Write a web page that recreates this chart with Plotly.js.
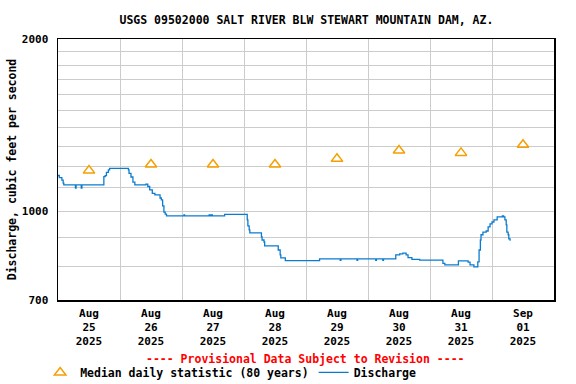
<!DOCTYPE html>
<html>
<head>
<meta charset="utf-8">
<script src="https://cdn.plot.ly/plotly-3.0.1.min.js"></script>
<style>html,body{margin:0;padding:0;background:#fff;}#chart{width:576px;height:384px;}</style>
</head>
<body>
<div id="chart"></div>
<script>
// Median daily statistic (80 years), plotted at noon of each day
const medianDates = ['2025-08-25 12:00','2025-08-26 12:00','2025-08-27 12:00','2025-08-28 12:00',
                     '2025-08-29 12:00','2025-08-30 12:00','2025-08-31 12:00','2025-09-01 12:00'];
const medianValues = [1178, 1207, 1207, 1207, 1235, 1277, 1265, 1307];

// Discharge (cfs)
const dischargeTimes = [
 '2025-08-25 00:00','2025-08-25 00:30','2025-08-25 01:30','2025-08-25 02:00','2025-08-25 02:15',
 '2025-08-25 06:30','2025-08-25 06:45','2025-08-25 07:00','2025-08-25 08:45','2025-08-25 09:00','2025-08-25 09:15',
 '2025-08-25 17:30','2025-08-25 17:45','2025-08-25 18:15','2025-08-25 18:45','2025-08-25 19:30','2025-08-25 20:00',
 '2025-08-26 03:00','2025-08-26 03:15','2025-08-26 03:30','2025-08-26 04:15','2025-08-26 05:00','2025-08-26 05:45',
 '2025-08-26 09:45','2025-08-26 10:00','2025-08-26 10:30','2025-08-26 10:45','2025-08-26 11:30','2025-08-26 12:30',
 '2025-08-26 13:30','2025-08-26 15:00','2025-08-26 15:30','2025-08-26 16:00','2025-08-26 16:30','2025-08-26 17:00',
 '2025-08-26 17:30','2025-08-26 18:00',
 '2025-08-27 00:30','2025-08-27 00:45','2025-08-27 01:00','2025-08-27 10:15','2025-08-27 10:30','2025-08-27 11:00',
 '2025-08-27 11:30','2025-08-27 11:45','2025-08-27 16:15','2025-08-27 16:30',
 '2025-08-28 01:00','2025-08-28 01:15','2025-08-28 01:30','2025-08-28 02:00','2025-08-28 02:15',
 '2025-08-28 06:30','2025-08-28 06:45','2025-08-28 07:00','2025-08-28 07:45','2025-08-28 08:00',
 '2025-08-28 13:00','2025-08-28 13:15','2025-08-28 14:00','2025-08-28 14:15','2025-08-28 16:00',
 '2025-08-29 05:00','2025-08-29 05:15','2025-08-29 13:00','2025-08-29 13:15','2025-08-29 13:30',
 '2025-08-29 19:30','2025-08-29 19:45','2025-08-29 20:00','2025-08-30 02:45','2025-08-30 03:00','2025-08-30 03:15',
 '2025-08-30 05:30','2025-08-30 05:45','2025-08-30 06:00',
 '2025-08-30 09:45','2025-08-30 10:45','2025-08-30 12:15','2025-08-30 13:30','2025-08-30 14:45','2025-08-30 15:30',
 '2025-08-30 17:00','2025-08-30 20:00','2025-08-31 04:00','2025-08-31 05:00','2025-08-31 05:45',
 '2025-08-31 10:45','2025-08-31 11:00','2025-08-31 13:45','2025-08-31 14:45','2025-08-31 15:30','2025-08-31 17:00',
 '2025-08-31 18:15','2025-08-31 18:30','2025-08-31 19:00','2025-08-31 19:30','2025-08-31 19:45','2025-08-31 20:30',
 '2025-08-31 21:45','2025-08-31 22:30','2025-08-31 23:15','2025-09-01 00:00','2025-09-01 00:45','2025-09-01 02:00',
 '2025-09-01 03:00','2025-09-01 04:00','2025-09-01 04:30','2025-09-01 05:00','2025-09-01 05:30','2025-09-01 05:45',
 '2025-09-01 06:15','2025-09-01 06:30','2025-09-01 07:00'
];
const dischargeValues = [
 1155,1145,1134,1120,1112,
 1112,1098,1112,1112,1098,1112,
 1112,1150,1154,1170,1181,1189,
 1189,1181,1165,1148,1125,1112,
 1112,1116,1116,1105,1090,1075,
 1068,1068,1055,1047,1022,997,
 989,982,
 982,986,982,982,986,982,
 986,982,982,988,
 988,966,943,928,917,
 917,902,891,884,870,
 870,856,839,829,820,
 820,826,826,821,826,
 826,821,826,826,821,826,
 826,821,826,
 826,839,843,845,839,830,
 824,822,822,811,806,
 806,819,819,815,806,800,
 800,816,856,891,910,920,
 924,939,951,958,966,978,
 978,982,978,966,947,920,
 910,895,888
];

// Axis tick labels
const xTickVals = medianDates;
const xTickText = ['Aug<br>25<br>2025','Aug<br>26<br>2025','Aug<br>27<br>2025','Aug<br>28<br>2025',
                   'Aug<br>29<br>2025','Aug<br>30<br>2025','Aug<br>31<br>2025','Sep<br>01<br>2025'];
const xGridVals = ['2025-08-26','2025-08-27','2025-08-28','2025-08-29','2025-08-30','2025-08-31','2025-09-01'];
const yTickVals = [700,800,900,1000,1100,1200,1300,1400,1500,1600,1700,1800,1900,2000];
const yTickText = ['700','','','1000','','','','','','','','','','2000'];

const FONT = 'DejaVu Sans Mono, Liberation Mono, monospace';

const traces = [
  {
    x: medianDates, y: medianValues, type: 'scatter', mode: 'markers',
    name: 'Median daily statistic (80 years)',
    marker: {symbol: 'triangle-up-open', size: 10, color: '#f5a000', line: {width: 1.5, color: '#f5a000'}},
    hoverinfo: 'x+y'
  },
  {
    x: dischargeTimes, y: dischargeValues, type: 'scatter', mode: 'lines',
    name: 'Discharge',
    line: {color: '#0a7ccf', width: 1.3, shape: 'hv'},
    hoverinfo: 'x+y'
  }
];

const layout = {
  width: 576, height: 384,
  margin: {l: 58, r: 22, t: 39, b: 84, autoexpand: false},
  paper_bgcolor: '#ffffff', plot_bgcolor: '#ffffff',
  font: {family: FONT, size: 11, color: '#000'},
  title: {
    text: '<b>USGS 09502000 SALT RIVER BLW STEWART MOUNTAIN DAM, AZ.</b>',
    font: {family: FONT, size: 11.5, color: '#000'},
    x: 0.532, xanchor: 'center', y: 0.947, yanchor: 'middle'
  },
  xaxis: {
    type: 'date',
    range: ['2025-08-25 00:00', '2025-09-02 00:00'],
    tickmode: 'array', tickvals: xTickVals, ticktext: xTickText,
    showgrid: false, ticks: '', zeroline: false,
    ticklabelstandoff: 2,
    tickfont: {family: FONT, size: 11, color: '#000', weight: 'bold'},
    showline: true, linecolor: '#000', linewidth: 1.5, mirror: true,
    minor: {tickmode: 'array', tickvals: xGridVals, showgrid: true, gridcolor: '#cccccc', gridwidth: 1, ticks: ''},
    fixedrange: true
  },
  yaxis: {
    type: 'log',
    range: [Math.log10(700), Math.log10(2000)],
    tickmode: 'array', tickvals: yTickVals, ticktext: yTickText,
    showgrid: true, gridcolor: '#cccccc', gridwidth: 1, ticks: '', zeroline: false,
    ticklabelstandoff: 6,
    tickfont: {family: FONT, size: 11, color: '#000', weight: 'bold'},
    showline: true, linecolor: '#000', linewidth: 1.5, mirror: true,
    title: {text: '<b>Discharge, cubic feet per second</b>', font: {family: FONT, size: 11.5, color: '#000'}, standoff: 3},
    fixedrange: true
  },
  showlegend: true,
  legend: {
    orientation: 'h', x: -0.036, xanchor: 'left', y: -0.222, yanchor: 'top',
    font: {family: FONT, size: 11.5, color: '#000', weight: 'bold'},
    bgcolor: 'rgba(0,0,0,0)', borderwidth: 0, itemwidth: 30, tracegroupgap: 0
  },
  annotations: [
    {
      text: '<b>---- Provisional Data Subject to Revision ----</b>',
      xref: 'paper', yref: 'paper', x: 0.498, y: -0.226, xanchor: 'center', yanchor: 'middle',
      showarrow: false, font: {family: FONT, size: 11.5, color: '#ff0000'}
    }
  ]
};

Plotly.newPlot('chart', traces, layout, {displayModeBar: false, staticPlot: true});
</script>
</body>
</html>
